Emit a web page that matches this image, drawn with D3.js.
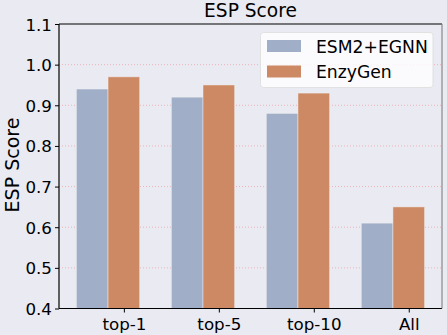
<!DOCTYPE html>
<html>
<head>
<meta charset="utf-8">
<script src="https://cdn.jsdelivr.net/npm/d3@7"></script>
<style>
  body { margin: 0; background: #eaeaf2; }
  text { font-family: "DejaVu Sans", sans-serif; fill: #000; }
</style>
</head>
<body>
<div id="chart"></div>
<script>
// data
const categories = ["top-1", "top-5", "top-10", "All"];
const seriesNames = ["ESM2+EGNN", "EnzyGen"];
const esm2egnn = [0.94, 0.92, 0.88, 0.61];
const enzygen = [0.97, 0.95, 0.93, 0.65];
const yTicks = [0.4, 0.5, 0.6, 0.7, 0.8, 0.9, 1.0, 1.1];
const colors = ["#a0aec8", "#cc8963"];

const width = 447, height = 335;
const margin = {top: 24, right: 5, bottom: 26.5, left: 59};

let svg = d3.select("#chart").append("svg")
    .attr("width", width)
    .attr("height", height)

svg.append("rect").attr("width", width).attr("height", height).attr("fill", "#eaeaf2")

// bars: first series at i - w, second at i, ticks at i (like matplotlib)
const w = 1 / 3;
let xScale = d3.scaleLinear()
    .domain([-0.683, 3.35])
    .range([margin.left, width - margin.right]);
let yScale = d3.scaleLinear()
    .domain([0.4, 1.1])
    .range([height - margin.bottom, margin.top]);

// grid lines
svg.append("g").selectAll("line")
    .data(yTicks.slice(1, -1))
    .enter().append("line")
    .attr("x1", margin.left)
    .attr("x2", width - margin.right)
    .attr("y1", d => yScale(d))
    .attr("y2", d => yScale(d))
    .attr("stroke", "#f08a8a")
    .attr("stroke-opacity", 0.7)
    .attr("stroke-width", 0.8)
    .attr("stroke-dasharray", "1,2");

let rows = [];
categories.forEach((c, i) => {
    rows.push({x: i - w, v: esm2egnn[i], s: 0});
    rows.push({x: i, v: enzygen[i], s: 1});
});

svg.append("g").selectAll("rect")
    .data(rows)
    .enter().append("rect")
    .attr("x", d => xScale(d.x - w / 2))
    .attr("width", d => xScale(d.x + w / 2) - xScale(d.x - w / 2))
    .attr("y", d => yScale(d.v))
    .attr("height", d => yScale(0.4) - yScale(d.v))
    .attr("fill", d => colors[d.s])
    .attr("stroke", "#f2f2f2")
    .attr("stroke-opacity", 0.6)
    .attr("stroke-width", 0.8);

// axes
let xAxis = d3.axisBottom(xScale)
    .tickValues(d3.range(categories.length))
    .tickFormat(i => categories[i])
    .tickSize(4).tickSizeOuter(0);
let yAxis = d3.axisLeft(yScale)
    .tickValues(yTicks)
    .tickFormat(d3.format(".1f"))
    .tickSize(4).tickSizeOuter(0);

let xAx = svg.append("g")
    .attr("transform", "translate(0," + (height - margin.bottom) + ")")
    .call(xAxis);
let yAx = svg.append("g")
    .attr("transform", "translate(" + margin.left + ",0)")
    .call(yAxis);
[xAx, yAx].forEach(ax => {
    ax.select(".domain").remove();
    ax.selectAll("line").attr("stroke", "#000").attr("stroke-width", 1);
    ax.selectAll("text").style("font-size", "16.7px");
});
xAx.selectAll("text").attr("dy", "1em").attr("y", 5);
yAx.selectAll("text").attr("x", -7).attr("dy", "0.36em");

// spines
let x0 = margin.left, x1 = width - margin.right;
let y0 = margin.top, y1 = height - margin.bottom;
svg.append("line").attr("x1", x0).attr("x2", x0).attr("y1", y0).attr("y2", y1)
    .attr("stroke", "#000").attr("stroke-width", 1.2);
svg.append("line").attr("x1", x0).attr("x2", x1).attr("y1", y1).attr("y2", y1)
    .attr("stroke", "#000").attr("stroke-width", 1.2);
svg.append("line").attr("x1", x0).attr("x2", x1).attr("y1", y0).attr("y2", y0)
    .attr("stroke", "#000").attr("stroke-width", 1.2);
svg.append("line").attr("x1", x1).attr("x2", x1).attr("y1", y0).attr("y2", y1)
    .attr("stroke", "#777").attr("stroke-width", 1);

// title and y label
svg.append("text")
    .attr("x", (x0 + x1) / 2)
    .attr("y", 17)
    .attr("text-anchor", "middle")
    .style("font-size", "18.6px")
    .text("ESP Score");
svg.append("text")
    .attr("transform", "translate(18.5," + 165 + ") rotate(-90)")
    .attr("text-anchor", "middle")
    .style("font-size", "19px")
    .text("ESP Score");

// legend
let legend = svg.append("g").attr("transform", "translate(260.5,32.5)");
legend.append("rect")
    .attr("width", 172.5).attr("height", 55).attr("rx", 3)
    .attr("fill", "#fff").attr("fill-opacity", 0.8)
    .attr("stroke", "#dcdcdc").attr("stroke-width", 0.8);
seriesNames.forEach((name, i) => {
    legend.append("rect")
        .attr("x", 6.5).attr("y", 7.5 + i * 25.5)
        .attr("width", 34).attr("height", 12)
        .attr("fill", colors[i]);
    legend.append("text")
        .attr("x", 55.5).attr("y", 20 + i * 25.5)
        .style("font-size", "17.2px")
        .text(name);
});
</script>
</body>
</html>
